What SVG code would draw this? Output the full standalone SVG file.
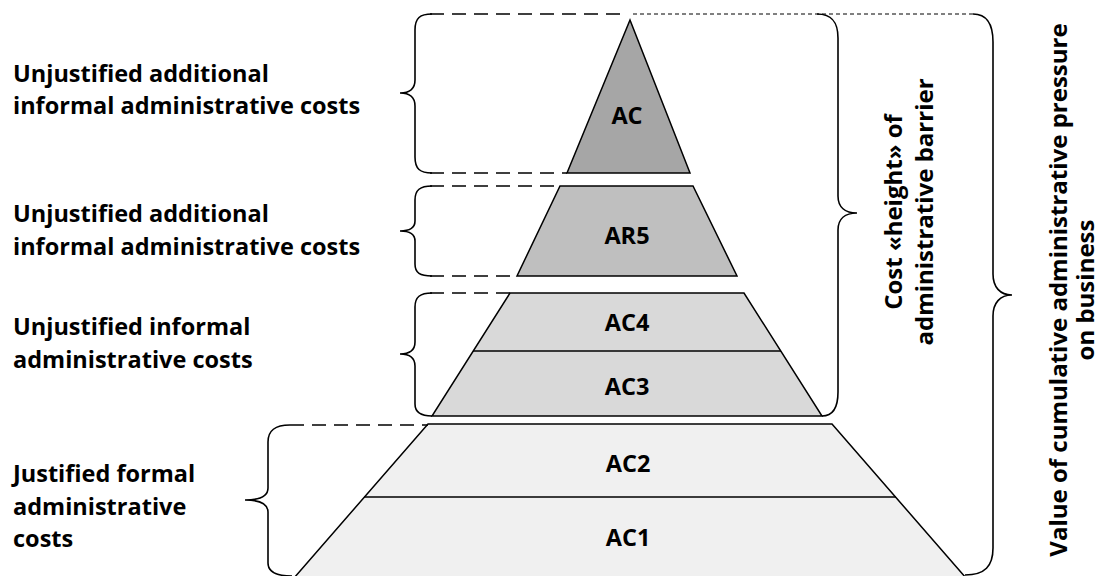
<svg xmlns="http://www.w3.org/2000/svg" width="1101" height="576" viewBox="0 0 1101 576">
<style>
.lbl{font-family:"Open Sans",Lato,"Liberation Sans",sans-serif;font-weight:bold;font-size:23.5px;fill:#000}
.cap{font-family:"Open Sans",Lato,"Liberation Sans",sans-serif;font-weight:bold;font-size:23.5px;fill:#000;text-anchor:middle}
.rot{font-family:"Open Sans",Lato,"Liberation Sans",sans-serif;font-weight:bold;font-size:24px;fill:#000;text-anchor:middle}
.shape{stroke:#000;stroke-width:1.5;stroke-linejoin:miter}
.brace{fill:none;stroke:#000;stroke-width:1.6}
.dash{fill:none;stroke:#000;stroke-width:1.6;stroke-dasharray:14 8}
.thin{fill:none;stroke:#000;stroke-width:1;stroke-dasharray:4 3}
</style>
<rect width="1101" height="576" fill="#fff"/>
<g id="level-ac">
<polygon class="shape" points="630,20 690,173 567,173" fill="#a6a6a6"/>
<text class="cap" x="627" y="124">AC</text>
</g>
<g id="level-ar5">
<polygon class="shape" points="560,186 693,186 737,276 517,276" fill="#bfbfbf"/>
<text class="cap" x="627" y="244">AR5</text>
</g>
<g id="level-ac4-ac3">
<polygon class="shape" points="510,293 744,293 822,416 432,416" fill="#d9d9d9"/>
<line class="shape" x1="473" y1="351" x2="781" y2="351"/>
<text class="cap" x="627" y="331">AC4</text>
<text class="cap" x="627" y="395">AC3</text>
</g>
<g id="level-ac2-ac1">
<polygon class="shape" points="428,424 832,424 966,578 294,578" fill="#f0f0f0"/>
<line class="shape" x1="364" y1="497" x2="896" y2="497"/>
<text class="cap" x="628" y="472">AC2</text>
<text class="cap" x="628" y="546">AC1</text>
</g>
<g id="connectors">
<path class="dash" d="M430 14 H624"/>
<path class="thin" d="M633 14 H973"/>
<path class="dash" d="M430 173 H567"/>
<path class="dash" d="M430 186 H560"/>
<path class="dash" d="M430 276 H517"/>
<path class="dash" d="M430 293 H510"/>
<path class="dash" d="M290 425 H428"/>
<path class="brace" d="M432 14 C420 14 415 18 415 30 L415 80 C415 89 410 93 400 93 C410 93 415 97 415 106 L415 157 C415 169 420 173 432 173"/>
<path class="brace" d="M432 186 C420 186 415 190 415 200 L415 221 C415 228 410 231 400 231 C410 231 415 234 415 241 L415 264 C415 273 420 276 432 276"/>
<path class="brace" d="M432 293 C420 293 415 297 415 307 L415 342 C415 350 410 354 400 354 C410 354 415 358 415 366 L415 404 C415 413 422 416 432 416"/>
<path class="brace" d="M290 425 C275 425 268 430 268 442 L268 488 C268 496 260 500 245 500 C260 500 268 504 268 512 L268 563 C268 572 276 576 292 576"/>
<path class="brace" d="M817 14 C832 14 838 22 838 38 L838 196 C838 207 845 213 857 213 C845 213 838 219 838 230 L838 392 C838 408 832 416 822 416"/>
<path class="brace" d="M973 14 C987 14 993 24 993 42 L993 274 C993 287 1000 295 1012 295 C1000 295 993 303 993 316 L993 548 C993 566 985 575 965 575"/>
</g>
<g id="left-labels">
<text class="lbl" x="13" y="82">Unjustified additional</text>
<text class="lbl" x="13" y="114">informal administrative costs</text>
<text class="lbl" x="13" y="222">Unjustified additional</text>
<text class="lbl" x="13" y="255">informal administrative costs</text>
<text class="lbl" x="13" y="335">Unjustified informal</text>
<text class="lbl" x="13" y="368">administrative costs</text>
<text class="lbl" x="13" y="482">Justified formal</text>
<text class="lbl" x="13" y="515">administrative</text>
<text class="lbl" x="13" y="547">costs</text>
</g>
<g id="right-labels">
<text class="rot" transform="translate(902 212) rotate(-90)">Cost «height» of</text>
<text class="rot" transform="translate(933 212) rotate(-90)">administrative barrier</text>
<text class="rot" transform="translate(1067 290) rotate(-90)">Value of cumulative administrative pressure</text>
<text class="rot" transform="translate(1094 290) rotate(-90)">on business</text>
</g>
</svg>
